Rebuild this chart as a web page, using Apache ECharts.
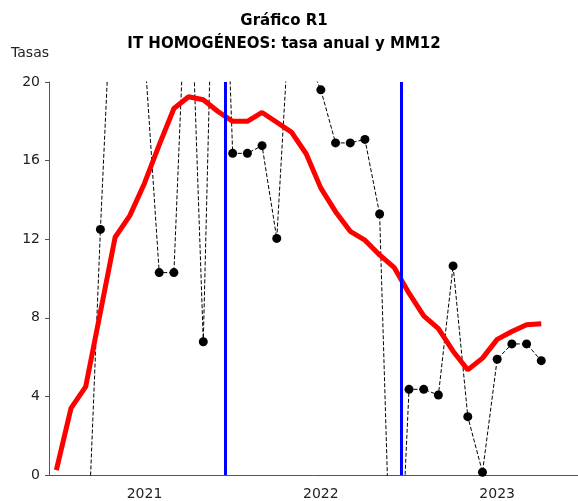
<!DOCTYPE html>
<html>
<head>
<meta charset="utf-8">
<script src="https://cdn.jsdelivr.net/npm/echarts@6/dist/echarts.min.js"></script>
<style>
  html, body { margin: 0; padding: 0; background: #fff; }
  #chart { width: 578px; height: 501px; }
</style>
</head>
<body>
<div id="chart"></div>
<script>
// años del eje x (12 meses por año)
var years = ['2021', '2022', '2023'];

// tasa anual (puntos negros), muchos valores salen del rango 0-20
var tasaAnual = [-8, -5, -6.2, 12.5, 28.9, 26, 21.6, 10.3, 10.3, 28.6, 6.78, 37.5,
                 16.37, 16.37, 16.76, 12.04, 25.0, 21.3, 19.6, 16.9, 16.9, 17.08, 13.28, -12,
                 4.36, 4.36, 4.07, 10.64, 2.97, 0.14, 5.89, 6.67, 6.67, 5.82, null, null];

// media movil 12 meses (linea roja)
var mm12 = [0.25, 3.4, 4.5, 8.3, 12.1, 13.2, 14.85, 16.8, 18.65, 19.25, 19.1, 18.5,
            18.0, 18.0, 18.45, 17.95, 17.45, 16.35, 14.6, 13.4, 12.4, 11.95, 11.2, 10.55,
            9.25, 8.1, 7.45, 6.3, 5.35, 5.95, 6.9, 7.3, 7.65, 7.7, null, null];

// separadores de año (en meses desde el inicio)
var yearBreaks = [12, 24];

var months = [];
years.forEach(function (y) {
    for (var m = 1; m <= 12; m++) months.push(y + '-' + m);
});

var font = 'DejaVu Sans';
var myChart = echarts.init(document.getElementById('chart'));

var option = {
    animation: false,
    title: {
        text: 'Gráfico R1\nIT HOMOGÉNEOS: tasa anual y MM12',
        left: 279,
        textAlign: 'center',
        top: 5,
        textStyle: {
            fontFamily: font,
            fontSize: 15,
            fontWeight: 'bold',
            color: '#000',
            lineHeight: 23
        }
    },
    grid: {
        left: 49,
        right: -1,
        top: 82,
        bottom: 26
    },
    xAxis: [{
        type: 'category',
        data: months,
        boundaryGap: true,
        axisLine: { lineStyle: { color: '#555', width: 1 } },
        axisTick: {
            length: 5,
            lineStyle: { color: '#555' },
            interval: function (index) { return index % 12 === 0; }
        },
        axisLabel: {
            fontFamily: font,
            fontSize: 14,
            color: '#222',
            margin: 12,
            interval: function (index) { return index % 12 === 6; },
            formatter: function (val) { return val.split('-')[0]; }
        },
        splitLine: { show: false }
    }, {
        // eje auxiliar para las lineas azules entre años
        type: 'value',
        min: 0,
        max: months.length,
        show: false
    }],
    yAxis: {
        type: 'value',
        min: 0,
        max: 20,
        interval: 4,
        name: 'Tasas',
        nameLocation: 'end',
        nameGap: 22,
        nameTextStyle: {
            fontFamily: font,
            fontSize: 14,
            color: '#222',
            align: 'right',
            padding: [0, 0, 0, 0]
        },
        axisLine: { show: true, lineStyle: { color: '#555', width: 1 } },
        axisTick: { show: true, length: 4, lineStyle: { color: '#555' } },
        axisLabel: {
            fontFamily: font,
            fontSize: 14,
            color: '#222',
            margin: 9
        },
        splitLine: { show: false }
    },
    series: [{
        type: 'line',
        xAxisIndex: 1,
        data: [],
        silent: true,
        z: 1,
        markLine: {
            silent: true,
            symbol: 'none',
            label: { show: false },
            lineStyle: { color: '#0000ff', width: 3, type: 'solid' },
            data: yearBreaks.map(function (b) { return { xAxis: b }; })
        }
    }, {
        name: 'Tasa anual',
        type: 'line',
        data: tasaAnual,
        clip: true,
        symbol: 'circle',
        symbolSize: 9,
        showAllSymbol: true,
        itemStyle: { color: '#000' },
        lineStyle: { color: '#000', width: 1, type: [4, 2] },
        z: 2
    }, {
        name: 'MM12',
        type: 'line',
        data: mm12,
        clip: true,
        symbol: 'none',
        lineStyle: { color: '#ff0000', width: 5 },
        z: 3
    }]
};

myChart.setOption(option);
</script>
</body>
</html>
